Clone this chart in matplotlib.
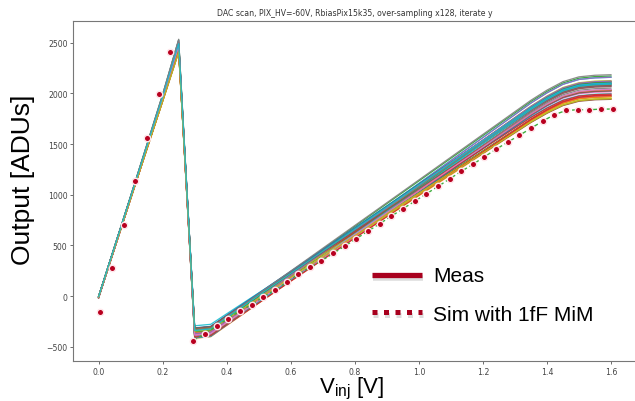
import matplotlib
matplotlib.use('Agg')
import matplotlib.pyplot as plt
from matplotlib.lines import Line2D

# ---------------- data ----------------
title_text = "DAC scan, PIX_HV=-60V, RbiasPix15k35, over-sampling x128, iterate y"

meas_x = [0.00, 0.05, 0.10, 0.15, 0.20, 0.25, 0.30, 0.35, 0.40, 0.45, 0.50,
          0.55, 0.60, 0.65, 0.70, 0.75, 0.80, 0.85, 0.90, 0.95, 1.00, 1.05,
          1.10, 1.15, 1.20, 1.25, 1.30, 1.35, 1.40, 1.45, 1.50, 1.55, 1.60]
meas_base = [-10, 480, 970, 1460, 1950, 2460, -360, -345, -236, -128, -20,
             88, 195, 302, 409, 516, 623, 730, 837, 944, 1051, 1158,
             1265, 1372, 1479, 1586, 1693, 1800, 1895, 1975, 2020, 2035, 2040]
# how strongly pixel-to-pixel spread shows at each injection step
meas_spread = [0.15, 0.2, 0.2, 0.25, 0.3, 0.45, 1.0, 1.0, 1.0, 1.0, 1.0,
               1.0, 1.0, 1.0, 1.0, 1.0, 1.0, 1.0, 1.0, 1.0, 1.0, 1.0,
               1.0, 1.0, 1.0, 1.0, 1.0, 1.0, 1.0, 1.0, 1.0, 1.0, 1.0]
# per-pixel gain deviation and offset (ADU) of each measured curve
meas_gain = [0.012, -0.034, 0.047, -0.008, 0.025, -0.051, 0.036, 0.003, -0.022, 0.058,
             -0.015, 0.019, -0.041, 0.041, -0.003, 0.030, -0.027, 0.008, 0.052, -0.046,
             0.015, -0.011, 0.033, -0.037, 0.062, 0.000, -0.019, 0.022, -0.055, 0.044,
             0.006, -0.030, 0.027, -0.006, 0.038, -0.024, 0.010, 0.050, -0.044, 0.017]
meas_offset = [10, -25, 35, -40, 20, 5, -15, 45, -30, 0,
               25, -50, 15, -10, 40, -35, 30, -5, -20, 50,
               -45, 12, -18, 28, -8, 38, -28, 8, 22, -38,
               48, -12, 18, -48, 3, 33, -22, 42, -2, 26]

sim_x = [0.005, 0.041, 0.078, 0.114, 0.150, 0.187, 0.223,
         0.296, 0.332, 0.369, 0.405, 0.441, 0.478, 0.514, 0.550, 0.587, 0.623,
         0.660, 0.696, 0.732, 0.769, 0.805, 0.841, 0.878, 0.914, 0.950, 0.987,
         1.023, 1.060, 1.096, 1.132, 1.169, 1.205, 1.241, 1.278, 1.314, 1.350,
         1.387, 1.423, 1.460, 1.496, 1.532, 1.569, 1.605]
sim_y = [-158, 276, 700, 1135, 1559, 1993, 2408,
         -440, -370, -296, -222, -148, -86, -7, 59, 135, 214,
         283, 348, 420, 493, 567, 640, 714, 788, 861, 935,
         1008, 1082, 1156, 1230, 1300, 1375, 1448, 1520, 1586, 1655,
         1727, 1789, 1832, 1838, 1838, 1845, 1845]
sim_line_start = 7  # green dashed guide drawn on the post-reset part

legend_labels = ["Meas", "Sim with 1fF MiM"]

# ---------------- figure ----------------
W, H = 635, 402
fig = plt.figure(figsize=(W / 100, H / 100), dpi=100)
ax = fig.add_axes([73 / W, 40 / H, (636.6 - 73) / W, (362 - 21.7) / H])

colors = plt.rcParams['axes.prop_cycle'].by_key()['color']
for k, (g, o) in enumerate(zip(meas_gain, meas_offset)):
    ys = [b + (b * g + o) * w for b, w in zip(meas_base, meas_spread)]
    ax.plot(meas_x, ys, color=colors[k % len(colors)], lw=0.9, alpha=0.9)

ax.plot(sim_x[sim_line_start:], sim_y[sim_line_start:], color='#3fae3f',
        lw=1.0, ls=(0, (3, 2)), zorder=5)
ax.plot(sim_x, sim_y, ls='none', marker='o', ms=4.6, mfc='#b8001f',
        mec='#ffe6ea', mew=1.0, zorder=6)

ax.set_xlim(-0.08, 1.68)
ax.set_ylim(-641, 2717)
ax.set_xticks([0.0, 0.2, 0.4, 0.6, 0.8, 1.0, 1.2, 1.4, 1.6])
ax.set_yticks([-500, 0, 500, 1000, 1500, 2000, 2500])
ax.tick_params(labelsize=5.6, colors='#555555', length=2, width=0.6, pad=2)
for lab in ax.get_xticklabels() + ax.get_yticklabels():
    lab.set_color('#444444')
for s in ax.spines.values():
    s.set_color('#777777')
    s.set_linewidth(0.8)
ax.set_title(title_text, fontsize=5.6, color='#333333', pad=4)

# axis labels (large, Arial-like)
fig.text(23 / W, 1 - 180 / H, "Output [ADUs]", rotation=90, ha='center', va='center',
         fontsize=19, family='Liberation Sans')
fig.text(352 / W, 1 - 389 / H, r"V$_{\mathregular{inj}}$ [V]", ha='center', va='center',
         fontsize=16, family='Liberation Sans')

# custom legend
def fx(px):
    return px / W

def fy(py):
    return 1 - py / H

red = '#a8001e'
fig.add_artist(Line2D([fx(373), fx(423)], [fy(279), fy(279)], color='#bbbbbb', lw=4,
                      alpha=0.5, transform=fig.transFigure, solid_capstyle='butt'))
fig.add_artist(Line2D([fx(372), fx(422)], [fy(276), fy(276)], color=red, lw=3.8,
                      transform=fig.transFigure, solid_capstyle='butt'))
fig.add_artist(Line2D([fx(373), fx(423)], [fy(316), fy(316)], color='#bbbbbb', lw=3.6,
                      alpha=0.5, ls=(0, (1, 1.3)), transform=fig.transFigure,
                      solid_capstyle='butt', dash_capstyle='butt'))
fig.add_artist(Line2D([fx(372), fx(422)], [fy(313), fy(313)], color=red, lw=3.6,
                      ls=(0, (1, 1.3)), transform=fig.transFigure,
                      dash_capstyle='butt'))
fig.text(fx(433), fy(277), legend_labels[0], ha='left', va='center', fontsize=15,
         family='Liberation Sans')
fig.text(fx(433), fy(316), legend_labels[1], ha='left', va='center', fontsize=15,
         family='Liberation Sans')

fig.savefig('out.png', dpi=100)
